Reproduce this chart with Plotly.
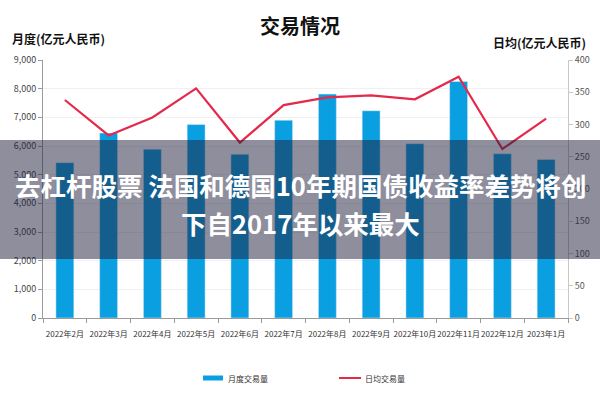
import plotly.graph_objects as go

months = ["2022年2月", "2022年3月", "2022年4月", "2022年5月", "2022年6月", "2022年7月",
          "2022年8月", "2022年9月", "2022年10月", "2022年11月", "2022年12月", "2023年1月"]
monthly_volume = [5420, 6450, 5890, 6750, 5710, 6900, 7810, 7230, 6080, 8250, 5730, 5530]
daily_volume = [338, 283, 311, 356, 272, 330, 342, 345, 339, 374, 262, 309]

bar_name = "月度交易量"
line_name = "日均交易量"
title_text = "交易情况"
left_title = "月度(亿元人民币)"
right_title = "日均(亿元人民币)"
overlay_line1 = "去杠杆股票 法国和德国10年期国债收益率差势将创"
overlay_line2 = "下自2017年以来最大"

FONT = "Noto Sans CJK SC"
BAR_COLOR = "#0a9fe0"
LINE_COLOR = "#e5294b"

W, H = 600, 400
L, R, T, B = 43, 32, 60, 82
PW, PH = W - L - R, H - T - B

def px_x(x):
    return (x - L) / PW

def px_y(y):
    return (H - B - y) / PH

fig = go.Figure()
fig.add_trace(go.Bar(x=months, y=monthly_volume, name=bar_name, marker_color=BAR_COLOR,
                     showlegend=False))
fig.add_trace(go.Scatter(x=months, y=daily_volume, name=line_name, yaxis="y2", mode="lines",
                         line=dict(color=LINE_COLOR, width=2.2), showlegend=False))

fig.update_layout(
    width=W, height=H,
    margin=dict(l=L, r=R, t=T, b=B, autoexpand=False),
    paper_bgcolor="white", plot_bgcolor="white",
    font=dict(family=FONT, color="#333333"),
    bargap=0.59,
    title=dict(text=title_text, x=0.5, xanchor="center", y=1 - 27 / H, yanchor="middle",
               font=dict(family=FONT, size=20, color="#111111", weight="bold")),
    xaxis=dict(type="category", showline=True, linecolor="#9a9a9a", linewidth=1,
               ticks="outside", tickson="boundaries", ticklen=4, tickcolor="#9a9a9a",
               tickangle=0, automargin=False, ticklabelstandoff=8,
               tickfont=dict(size=8, color="#333333"), showgrid=False,
               range=[-0.5, len(months) - 0.5]),
    yaxis=dict(range=[0, 9000], dtick=1000, tickformat=",d", showline=True,
               linecolor="#9a9a9a", ticks="outside", ticklen=4, tickcolor="#9a9a9a",
               tickfont=dict(size=9, color="#444444"), showgrid=True, gridcolor="#f0f0f0",
               zeroline=False, automargin=False),
    yaxis2=dict(range=[0, 400], dtick=50, overlaying="y", side="right", showline=True,
                linecolor="#c8c8c8", ticks="outside", ticklen=4, tickcolor="#c8c8c8",
                tickfont=dict(size=9, color="#555555"), showgrid=False, zeroline=False,
                automargin=False),
)

annotations = [
    dict(text="<b>" + left_title + "</b>", xref="paper", yref="paper", x=px_x(10), y=px_y(38),
         xanchor="left", yanchor="middle", showarrow=False,
         font=dict(family=FONT, size=12, color="#111111")),
    dict(text="<b>" + right_title + "</b>", xref="paper", yref="paper", x=px_x(588), y=px_y(42),
         xanchor="right", yanchor="middle", showarrow=False,
         font=dict(family=FONT, size=12, color="#111111")),
    # legend labels
    dict(text=bar_name, xref="paper", yref="paper", x=px_x(226), y=px_y(378),
         xanchor="left", yanchor="middle", showarrow=False,
         font=dict(family=FONT, size=8, color="#333333")),
    dict(text=line_name, xref="paper", yref="paper", x=px_x(363), y=px_y(378),
         xanchor="left", yanchor="middle", showarrow=False,
         font=dict(family=FONT, size=8, color="#333333")),
    # overlay text
    dict(text="<b>" + overlay_line1 + "</b>", xref="paper", yref="paper", x=px_x(300), y=px_y(184),
         xanchor="center", yanchor="middle", showarrow=False,
         font=dict(family=FONT, size=25.5, color="white")),
    dict(text="<b>" + overlay_line2 + "</b>", xref="paper", yref="paper", x=px_x(300), y=px_y(222),
         xanchor="center", yanchor="middle", showarrow=False,
         font=dict(family=FONT, size=25.5, color="white")),
]
fig.update_layout(annotations=annotations)

shapes = [
    # legend swatches
    dict(type="rect", xref="paper", yref="paper", x0=px_x(203), x1=px_x(223),
         y0=px_y(380.5), y1=px_y(375.5), fillcolor=BAR_COLOR, line=dict(width=0)),
    dict(type="line", xref="paper", yref="paper", x0=px_x(339), x1=px_x(361),
         y0=px_y(378), y1=px_y(378), line=dict(color=LINE_COLOR, width=2)),
    # translucent overlay band
    dict(type="rect", xref="paper", yref="paper", x0=px_x(0), x1=px_x(W),
         y0=px_y(259), y1=px_y(140), fillcolor="rgba(30,30,60,0.5)", line=dict(width=0),
         layer="above"),
]
fig.update_layout(shapes=shapes)

fig.write_html("out.html", config={"displayModeBar": False},
               post_script="document.body.style.margin='0';document.body.style.overflow='hidden';")
